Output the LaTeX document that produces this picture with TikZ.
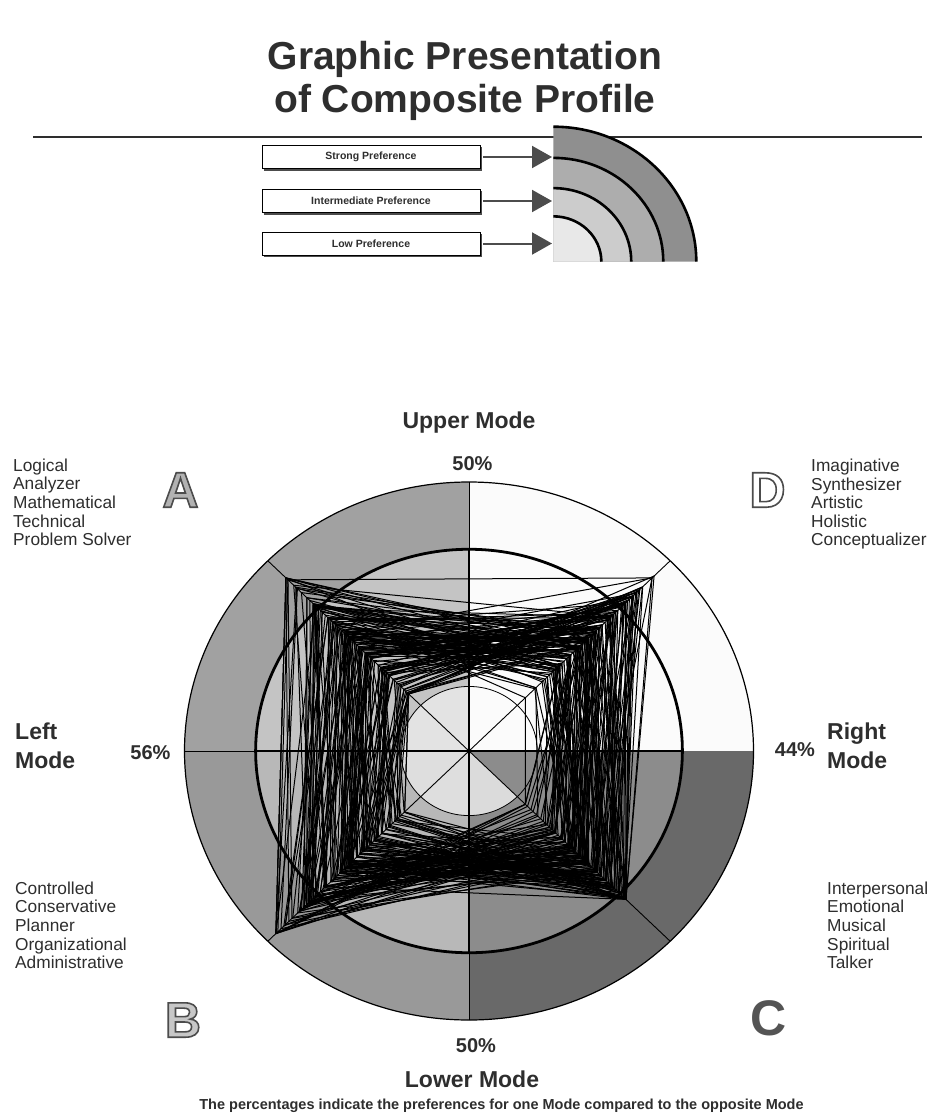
\documentclass[tikz,border=0pt]{standalone}
\usepackage{fontspec}
\setmainfont{Liberation Sans}
\usetikzlibrary{arrows.meta,calc}
\definecolor{ink}{gray}{0.18}
\definecolor{Aout}{gray}{0.63}
\definecolor{Ain}{gray}{0.77}
\definecolor{Acen}{gray}{0.89}
\definecolor{Dout}{gray}{0.985}
\definecolor{Bout}{gray}{0.6}
\definecolor{Bin}{gray}{0.72}
\definecolor{Bcen}{gray}{0.87}
\definecolor{Cout}{gray}{0.41}
\definecolor{Cin}{gray}{0.55}
\definecolor{Ccen}{gray}{0.86}
\definecolor{Lone}{gray}{0.56}
\definecolor{Ltwo}{gray}{0.68}
\definecolor{Lthree}{gray}{0.8}
\definecolor{Lfour}{gray}{0.91}
\definecolor{arrg}{gray}{0.3}
\definecolor{letA}{gray}{0.7}
\definecolor{letB}{gray}{0.78}
\definecolor{letC}{gray}{0.33}
% outlined letter: fill with current text colour, stroke dark grey
\newcommand\olet[1]{\special{pdf:literal direct 2 Tr 1.6 w 0.3 G}#1\special{pdf:literal direct 0 Tr 0.4 w}}
\begin{document}
\begin{tikzpicture}[x=1pt,y=-1pt,
  titlef/.style={font=\bfseries\fontsize{39}{44}\selectfont, text=ink, inner sep=0, anchor=base},
  legbox/.style={draw=black, line width=0.8, fill=white, minimum width=218, minimum height=23, inner sep=0, font=\bfseries\fontsize{10.5}{12}\selectfont, text=ink},
  legshadow/.style={line width=1.6, draw=arrg},
  legarrow/.style={line width=2, draw=arrg, -{Triangle[length=20pt,width=22pt]}, shorten <=3pt},
  modef/.style={font=\bfseries\fontsize{23}{29}\selectfont, text=ink, inner sep=0},
  pctf/.style={font=\bfseries\fontsize{20}{24}\selectfont, text=ink, inner sep=0, anchor=base},
  descf/.style={font=\fontsize{17.3}{18.6}\selectfont, text=ink, inner sep=0, align=left, anchor=west},
  letter/.style={font=\bfseries\fontsize{50}{50}\selectfont, inner sep=0},
  web/.style={line width=1, draw=black, line join=round},
  thinl/.style={line width=0.9, draw=black},
  axisl/.style={line width=1.8, draw=black}]
\useasboundingbox (0,0) rectangle (930,1113);
\fill[white] (0,0) rectangle (930,1113);
% title
\node[titlef] (t1) at (465,70) {Graphic Presentation};
\node[titlef] (t2) at (465,113) {of Composite Profile};
\coordinate (r1) at (33,137);
\coordinate (r2) at (922,137);
\draw[line width=1.5, draw=ink] (r1) -- (r2);
% legend
\node[legbox] (b1) at (371,157) {Strong Preference};
\node[legbox] (b2) at (371,201) {Intermediate Preference};
\node[legbox] (b3) at (371,243.5) {Low Preference};
\foreach \b in {b1,b2,b3}{
  \draw[legshadow] ($(\b.south west)+(2,1.2)$) -- ($(\b.south east)+(1.2,1.2)$) -- ($(\b.north east)+(1.2,2)$);}
\coordinate (tip1) at (552,157);
\coordinate (tip2) at (552,201);
\coordinate (tip3) at (552,243.5);
\draw[legarrow] (b1) -- (tip1);
\draw[legarrow] (b2) -- (tip2);
\draw[legarrow] (b3) -- (tip3);
\begin{scope}[shift={(553.3pt,-261.7pt)}, x=143pt, y=135pt]
  \fill[Lone] (0,0) -- (1,0) arc[start angle=0,end angle=90,radius=1] -- cycle;
  \fill[Ltwo] (0,0) -- (0.769,0) arc[start angle=0,end angle=90,radius=0.769] -- cycle;
  \fill[Lthree] (0,0) -- (0.545,0) arc[start angle=0,end angle=90,radius=0.545] -- cycle;
  \fill[Lfour] (0,0) -- (0.336,0) arc[start angle=0,end angle=90,radius=0.336] -- cycle;
  \foreach \r in {1,0.769,0.545,0.336}{
    \draw[line width=2.6] (\r,0) arc[start angle=0,end angle=90,radius=\r];}
\end{scope}
% chart
\begin{scope}[shift={(469pt,-751pt)}, x=284.5pt, y=269pt]
  \fill[Aout] (0,0) -- (90:1) arc[start angle=90,end angle=180,radius=1] -- cycle;
  \fill[Dout] (0,0) -- (0:1) arc[start angle=0,end angle=90,radius=1] -- cycle;
  \fill[Bout] (0,0) -- (180:1) arc[start angle=180,end angle=270,radius=1] -- cycle;
  \fill[Cout] (0,0) -- (270:1) arc[start angle=270,end angle=360,radius=1] -- cycle;
  \fill[Ain] (0,0) -- (90:0.75) arc[start angle=90,end angle=180,radius=0.75] -- cycle;
  \fill[Bin] (0,0) -- (180:0.75) arc[start angle=180,end angle=270,radius=0.75] -- cycle;
  \fill[Cin] (0,0) -- (270:0.75) arc[start angle=270,end angle=360,radius=0.75] -- cycle;
  \fill[Acen] (0,0) -- (90:0.24) arc[start angle=90,end angle=180,radius=0.24] -- cycle;
  \fill[Bcen] (0,0) -- (180:0.24) arc[start angle=180,end angle=270,radius=0.24] -- cycle;
  \fill[Ccen] (0,0) -- (270:0.24) arc[start angle=270,end angle=315,radius=0.24] -- cycle;
  \draw[line width=0.8] (0,0) circle[radius=0.24];
  \pgfmathsetseed{23}
  \foreach \i in {1,...,140}{
    \pgfmathsetmacro\uu{rnd}
    \pgfmathsetmacro\lft{0.31+0.56*\uu}
    \pgfmathsetmacro\rgt{0.30+0.58*(0.55*(1-\uu)+0.45*rnd)}
    \pgfmathsetmacro\ra{max(0.30,min(0.91,\lft+0.26*(rnd-0.5)))}
    \pgfmathsetmacro\rb{max(0.32,min(0.96,\lft+0.05+0.26*(rnd-0.5)))}
    \pgfmathsetmacro\rd{max(0.28,min(0.92,\rgt+0.26*(rnd-0.5)))}
    \pgfmathsetmacro\rc{max(0.28,min(0.78,\rgt-0.04+0.26*(rnd-0.5)))}
    \draw[web] (135:\ra) -- (45:\rd) -- (-45:\rc) -- (225:\rb) -- cycle;
  }
  \draw[web] (135:0.9) -- (45:0.91) -- (-45:0.62) -- (225:0.88) -- cycle;
  \draw[web] (135:0.9) -- (45:0.45) -- (-45:0.5) -- (225:0.95) -- cycle;
  \draw[web] (135:0.62) -- (45:0.91) -- (-45:0.78) -- (225:0.6) -- cycle;
  \foreach \a in {45,135,225,315}{\draw[thinl] (0,0) -- (\a:1);}
  \draw[thinl] (0,1) -- (0,-1);
  \draw[thinl] (-1,0) -- (-0.75,0);
  \draw[axisl] (-0.75,0) -- (0.75,0);
  \draw[axisl] (0,0.75) -- (0,-0.75);
  \draw[line width=2.8] (0,0) circle[radius=0.75];
  \draw[line width=1.2] (0,0) circle[radius=1];
\end{scope}
% labels
\node[modef, anchor=base] (um) at (469,428) {Upper Mode};
\node[pctf] (pu) at (472.5,470) {50\%};
\node[modef, anchor=base] (lm) at (472,1087) {Lower Mode};
\node[pctf] (pl) at (476,1052) {50\%};
\node[pctf] (pleft) at (150.5,759) {56\%};
\node[pctf] (pright) at (795,756) {44\%};
\node[modef, align=left, anchor=west] (lmode) at (15,746) {Left\\Mode};
\node[modef, align=left, anchor=west] (rmode) at (827,746) {Right\\Mode};
\node[descf] (dA) at (13,502.4) {Logical\\Analyzer\\Mathematical\\Technical\\Problem Solver};
\node[descf] (dD) at (811,504.2) {Imaginative\\Synthesizer\\Artistic\\Holistic\\Conceptualizer};
\node[descf] (dB) at (15,925.4) {Controlled\\Conservative\\Planner\\Organizational\\Administrative};
\node[descf] (dC) at (827,925.4) {Interpersonal\\Emotional\\Musical\\Spiritual\\Talker};
\node[letter, text=letA] (lA) at (180.5,490) {\olet{A}};
\node[letter, text=white] (lD) at (767.5,490) {\olet{D}};
\node[letter, text=letB] (lB) at (183,1020) {\olet{B}};
\node[letter, text=letC] (lC) at (769,1018) {C};
\node[font=\bfseries\fontsize{14.5}{16}\selectfont, text=ink, inner sep=0, anchor=base] (foot) at (501.5,1109) {The percentages indicate the preferences for one Mode compared to the opposite Mode};
\end{tikzpicture}
\end{document}
